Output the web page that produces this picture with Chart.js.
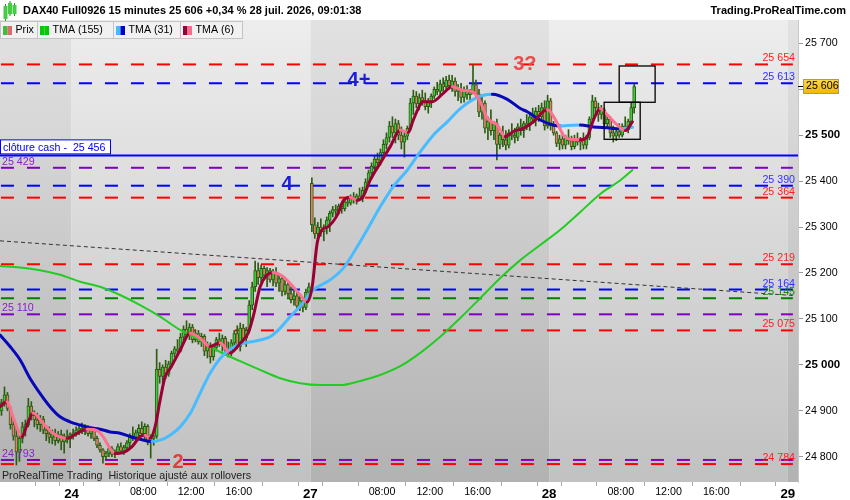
<!DOCTYPE html>
<html>
<head>
<meta charset="utf-8">
<title>DAX40 Full0926 15 minutes</title>
<script src="https://cdn.jsdelivr.net/npm/chart.js@4.4.1/dist/chart.umd.min.js"></script>
<style>
  html, body { margin: 0; padding: 0; background: #fff; overflow: hidden; }
  canvas { display: block; }
</style>
</head>
<body>
<canvas id="chart" width="850" height="500"></canvas>
<script>
// 15 minute bars from 23 juil. 16:00 to 28 juil. 09:00
// x axis = trading hours (02:00-22:00 sessions, weekend removed), 0 = 23 juil. 16:00
const opens = [
  24900,24918,24935,24905,24870,24845,24810,24840,24865,24870,24910,24890,24880,24870,24882,24858,24850,24842,24850,24835,24848,24832,24845,24838,
  24848,24852,24858,24862,24855,24865,24850,24858,24840,24825,24815,24800,24808,24818,24805,24810,24822,24812,24820,24830,24845,24840,24852,24862,24850,24866,24835,24840,24845,
  24990,24975,24995,24980,25002,25025,25035,25030,25060,25078,25065,25082,25055,25068,25050,25062,25030,25042,25018,25038,25055,25045,25058,25032,25025,25048,25068,25040,25080,25058,
  25075,25130,25170,25205,25190,25210,25195,25205,25185,25200,25178,25188,25160,25175,25155,25142,25150,25128,25140,25125,25158,
  25395,25305,25285,25300,25290,25298,25315,25330,25338,25335,25345,25340,25355,25352,25365,25360,25368,25362,25380,25398,25418,25432,25448,25440,25462,25480,25495,25520,25505,25525,
  25500,25485,25498,25515,25570,25585,25568,25582,25575,25562,25572,25585,25600,25595,25612,25605,25620,25608,25618,25595,25600,25582,25598,25588,25595,25610,25590,25550,25570,25515,
  25530,25510,25525,25480,25500,25490,25478,25505,25500,25495,25518,25510,25525,25520,25540,25535,25552,25540,25560,25520,
  25575,25520,25505,25482,25492,25478,25495,25488,25475,25492,25485,25490,25478,25495,25535,25575,25560,25545,25555,25525,25535,25505,25498,25508,25500,25520,25512,25530,25560
];
const highs = [
  24925,24952,24940,24910,24880,24865,24850,24875,24880,24927,24920,24900,24895,24890,24888,24868,24865,24858,24860,24855,24858,24850,24858,24852,
  24860,24865,24868,24873,24870,24868,24865,24860,24845,24830,24818,24812,24825,24822,24815,24828,24830,24825,24835,24850,24865,24858,24870,24876,24872,24870,24848,24850,25034,
  25005,25000,25010,25008,25030,25040,25055,25069,25085,25096,25090,25088,25076,25075,25069,25066,25050,25048,25045,25060,25069,25065,25062,25050,25055,25075,25085,25091,25088,25082,
  25140,25180,25226,25222,25217,25215,25212,25210,25208,25212,25195,25191,25185,25180,25170,25165,25158,25150,25145,25165,25178,
  25407,25320,25310,25318,25305,25322,25335,25345,25348,25350,25352,25360,25365,25370,25375,25372,25385,25387,25405,25424,25440,25455,25461,25470,25490,25505,25530,25540,25535,25532,
  25518,25505,25520,25580,25598,25595,25590,25598,25592,25580,25590,25605,25615,25620,25625,25628,25631,25630,25625,25610,25613,25605,25608,25600,25653,25620,25600,25583,25575,25540,
  25555,25530,25535,25505,25520,25510,25512,25525,25515,25525,25535,25530,25545,25548,25559,25560,25565,25570,25575,25587,
  25580,25530,25508,25500,25505,25500,25512,25498,25500,25505,25495,25505,25500,25540,25587,25582,25570,25565,25559,25545,25540,25520,25512,25525,25525,25540,25535,25570,25612
];
const lows = [
  24890,24910,24900,24860,24836,24782,24790,24830,24845,24865,24880,24865,24860,24855,24850,24835,24830,24828,24825,24830,24815,24808,24830,24820,
  24838,24845,24848,24850,24848,24845,24840,24835,24820,24810,24786,24795,24800,24800,24798,24805,24808,24805,24815,24822,24835,24830,24840,24845,24838,24826,24797,24825,24840,
  24960,24962,24970,24975,24995,25017,25025,25028,25050,25060,25055,25048,25050,25045,25040,25020,25015,25004,25010,25030,25040,25030,25025,25017,25020,25040,25035,25030,25050,25040,
  25070,25120,25160,25175,25180,25185,25170,25180,25172,25170,25160,25150,25152,25148,25135,25130,25120,25118,25115,25120,25141,
  25290,25275,25267,25280,25270,25285,25290,25322,25325,25328,25330,25335,25345,25348,25352,25350,25360,25355,25375,25390,25405,25424,25430,25435,25453,25470,25485,25495,25483,25490,
  25470,25452,25490,25510,25545,25560,25555,25565,25555,25548,25560,25580,25588,25585,25595,25598,25600,25595,25585,25575,25570,25572,25578,25575,25590,25580,25540,25535,25505,25490,
  25500,25490,25446,25470,25475,25468,25472,25490,25483,25488,25500,25495,25512,25510,25525,25520,25530,25535,25511,25515,
  25511,25500,25475,25468,25470,25470,25480,25468,25470,25478,25468,25470,25470,25490,25530,25545,25530,25535,25518,25515,25495,25485,25488,25495,25496,25508,25505,25525,25548
];
const closes = [
  24918,24935,24905,24870,24845,24810,24840,24865,24870,24910,24890,24880,24870,24882,24858,24850,24842,24850,24835,24848,24832,24845,24838,24848,
  24852,24858,24862,24855,24865,24850,24858,24840,24825,24815,24800,24808,24818,24805,24810,24822,24812,24820,24830,24845,24840,24852,24862,24850,24866,24835,24840,24845,24990,
  24975,24995,24980,25002,25025,25035,25030,25060,25078,25065,25082,25055,25068,25050,25062,25030,25042,25018,25038,25055,25045,25058,25032,25025,25048,25068,25040,25080,25058,25075,
  25130,25170,25205,25190,25210,25195,25205,25185,25200,25178,25188,25160,25175,25155,25142,25150,25128,25140,25125,25158,25170,
  25305,25285,25300,25290,25298,25315,25330,25338,25335,25345,25340,25355,25352,25365,25360,25368,25362,25380,25398,25418,25432,25448,25440,25462,25480,25495,25520,25505,25525,25500,
  25485,25498,25515,25570,25585,25568,25582,25575,25562,25572,25585,25600,25595,25612,25605,25620,25608,25618,25595,25600,25582,25598,25588,25595,25610,25590,25550,25570,25515,25530,
  25510,25525,25480,25500,25490,25478,25505,25500,25495,25518,25510,25525,25520,25540,25535,25552,25540,25560,25520,25575,
  25520,25505,25482,25492,25478,25495,25488,25475,25492,25485,25490,25478,25495,25535,25575,25560,25545,25555,25525,25535,25505,25498,25508,25500,25520,25512,25530,25560,25606
];

// moving averages (x in trading hours)
const tma6X = [0,0.59,1.09,1.84,2.26,2.77,3.60,4.44,5.62,6.45,7.29,8.13,8.63,9.22,9.64,10.31,11.06,11.74,12.15,12.57,
  12.99,13.41,13.83,14.25,15.09,15.93,16.76,17.60,18.44,19.28,20.12,20.79,21.21,21.79,22.38,22.88,23.72,24.56,25.15,25.73,
  26.15,26.57,26.99,27.49,28.25,28.75,29.34,29.92,30.43,31.01,31.85,32.69,33.53,34.20,34.62,35.46,36.21,37.13,37.89,38.73,
  39.56,40.23,40.82,41.66,42.33,43.00,43.84,44.68,45.85,46.69,47.19,47.78,48.62,49.20,49.71,50.29,50.88,51.72,52.39,52.98];
const tma6Y = [24909,24920,24887,24844,24869,24895,24873,24851,24840,24851,24860,24857,24844,24818,24807,24809,24822,24844,24847,24840,
  24865,24923,24974,24992,25032,25069,25058,25040,25048,25026,25047,25069,25105,25170,25196,25201,25192,25170,25152,25137,
  25170,25265,25294,25301,25326,25357,25365,25358,25367,25402,25439,25475,25511,25506,25533,25573,25573,25591,25606,25598,
  25595,25573,25537,25522,25497,25508,25515,25529,25556,25526,25500,25491,25490,25497,25533,25558,25544,25522,25510,25529];
const tma31X = [0,0.84,1.68,2.51,3.35,4.19,5.03,5.87,6.71,7.54,8.38,9.22,10.06,10.90,11.74,12.74,13.41,14.25,15.09,15.93,
  16.76,17.60,18.44,19.28,20.12,20.96,21.79,22.63,23.47,24.31,25.15,26.24,27.66,28.75,29.59,30.76,31.85,32.94,34.12,35.21,
  36.30,37.47,38.56,39.65,40.49,41.24,42.50,43.59,44.17,45.26,46.35,46.94,47.53,48.62,49.71,50.88,51.97,52.98];
const tma31Y = [25065,25040,25011,24971,24938,24909,24887,24876,24869,24863,24860,24854,24851,24844,24838,24833,24836,24847,24865,24894,
  24938,24982,25014,25034,25045,25050,25054,25061,25080,25105,25128,25163,25185,25210,25243,25294,25344,25388,25424,25464,
  25500,25529,25558,25578,25587,25589,25578,25558,25551,25533,25522,25520,25521,25522,25518,25516,25514,25517];
const tma155X = [0,1.68,3.35,5.03,6.71,8.38,10.06,11.74,13.41,15.09,16.76,18.44,20.12,21.79,23.47,25.15,26.82,
  28.50,30.18,31.85,33.53,35.21,36.88,38.56,40.23,41.91,43.59,45.26,46.94,48.62,50.29,51.97,52.98];
const tma155Y = [25215,25212,25206,25196,25181,25170,25152,25130,25105,25076,25054,25028,25008,24989,24971,24960,24956,
  24956,24965,24978,24997,25026,25061,25102,25145,25189,25228,25261,25294,25333,25372,25402,25424];

// horizontal levels
const levelValues = [25654, 25613, 25429, 25390, 25364, 25219, 25164, 25145, 25110, 25075, 24793, 24784];
const levelKinds  = ['red','blue','purple','blue','red','red','blue','green','purple','red','purple','red'];
const clotureValue = 25456;
const trendX = [0, 66.4];
const trendY = [25270, 25151];

// axis ticks
const dayStarts = [6, 26, 46, 66];
const xTickVals   = [4, 6, 8, 12, 16, 20, 24, 26, 28, 32, 36, 40, 44, 46, 48, 52, 56, 60, 64, 66];
const xTickLabels = ['', '24', '', '08:00', '12:00', '16:00', '', '27', '', '08:00', '12:00', '16:00', '', '28', '', '08:00', '12:00', '16:00', '', '29'];
const yTickVals = [24800, 24900, 25000, 25100, 25200, 25300, 25400, 25500, 25600, 25700];

// annotations
const noteTexts = ['4+', '4', '3?', '2'];
const noteX = [30.07, 24.04, 43.97, 14.91];
const noteY = [25619, 25393, 25653, 24788];
const boxX0 = [51.87, 50.61], boxX1 = [54.88, 53.63];
const boxY0 = [25571.6, 25491], boxY1 = [25650.6, 25571.6];

const FONT = "'Liberation Sans', Arial, sans-serif";
const LEVEL_COLORS = { red: '#ff0000', blue: '#0000ff', green: '#008000', purple: '#7f00c0' };
const LABEL_COLORS = { red: '#ff1e1e', blue: '#3030ff', green: '#108a10', purple: '#8a20c8' };
const UP = '#3ccc3c', DOWN = '#e8806c', EDGE = '#2c5c12';
const NOTE_COLORS = ['#1c1cdc', '#1c1cdc', '#ea4c4c', '#e23c3c'];

const fmt = v => { const s = String(Math.round(v)); return s.slice(0, -3) + ' ' + s.slice(-3); };
const barX = i => 0.125 + i * 0.25;

const n = Math.min(opens.length, highs.length, lows.length, closes.length);
const wickData = [], bodyData = [], bodyColors = [];
for (let i = 0; i < n; i++) {
  wickData.push({ x: barX(i), y: [lows[i], highs[i]] });
  bodyData.push({ x: barX(i), y: [opens[i], closes[i]] });
  bodyColors.push(closes[i] >= opens[i] ? UP : DOWN);
}

const levelSets = levelValues.map((v, i) => ({
  type: 'line',
  data: [{ x: 0.08, y: v }, { x: 66.42, y: v }],
  borderColor: LEVEL_COLORS[levelKinds[i]],
  borderWidth: 2,
  borderDash: [13, 13],
  borderCapStyle: 'butt',
  pointRadius: 0,
  order: 10
}));

function maSet(xs, ys, up, down, width, order) {
  return {
    type: 'line',
    data: xs.map((x, i) => ({ x, y: ys[i] })),
    borderColor: up,
    borderWidth: width,
    borderCapStyle: 'round',
    borderJoinStyle: 'round',
    cubicInterpolationMode: 'monotone',
    pointRadius: 0,
    segment: { borderColor: c => (c.p1.parsed.y >= c.p0.parsed.y ? up : down) },
    order
  };
}

const datasets = [
  ...levelSets,
  { type: 'line', data: trendX.map((x, i) => ({ x, y: trendY[i] })), borderColor: '#333', borderWidth: 1,
    borderDash: [4, 3], pointRadius: 0, order: 9 },
  { type: 'bar', data: wickData, backgroundColor: EDGE, barThickness: 1, grouped: false, order: 8 },
  { type: 'bar', data: bodyData, backgroundColor: bodyColors, borderColor: EDGE, borderWidth: 1,
    borderSkipped: false, barThickness: 3, minBarLength: 1, grouped: false, order: 7 },
  { type: 'line', data: [{ x: 0, y: clotureValue }, { x: 66.85, y: clotureValue }], borderColor: '#0000ff',
    borderWidth: 2, pointRadius: 0, order: 6 },
  maSet(tma155X, tma155Y, '#22cc22', '#22cc22', 2, 3),
  maSet(tma31X, tma31Y, '#48bcff', '#0808b8', 3, 2),
  maSet(tma6X, tma6Y, '#9a0036', '#ff7090', 3, 1)
];

const bgPlugin = {
  id: 'bg',
  beforeDraw(chart) {
    const { ctx, chartArea: a, scales: { x } } = chart;
    ctx.save();
    ctx.fillStyle = '#fff';
    ctx.fillRect(0, 0, chart.width, chart.height);
    const edges = [x.min, ...dayStarts, x.max];
    for (let i = 0; i < edges.length - 1; i++) {
      const x0 = x.getPixelForValue(edges[i]), x1 = x.getPixelForValue(edges[i + 1]);
      const g = ctx.createLinearGradient(0, a.top, 0, a.bottom);
      const dark = i % 2 === 0;
      g.addColorStop(0, dark ? '#e2e2e2' : '#ededed');
      g.addColorStop(1, dark ? '#b2b2b2' : '#c1c1c1');
      ctx.fillStyle = g;
      ctx.fillRect(x0, a.top, x1 - x0, a.bottom - a.top);
    }
    ctx.restore();
  }
};

const overlayPlugin = {
  id: 'overlay',
  afterDatasetsDraw(chart) {
    const { ctx, chartArea: a, scales: { x, y } } = chart;
    ctx.save();
    ctx.font = '10.67px ' + FONT;
    ctx.textBaseline = 'alphabetic';
    // level labels
    levelValues.forEach((v, i) => {
      const py = y.getPixelForValue(v);
      ctx.fillStyle = LABEL_COLORS[levelKinds[i]];
      if (levelKinds[i] === 'purple') {
        ctx.textAlign = 'left';
        ctx.fillText(fmt(v), 2, py - 3);
      } else {
        ctx.textAlign = 'right';
        ctx.fillText(fmt(v), 795, py - 3);
      }
    });
    // cloture cash box
    const cy = y.getPixelForValue(clotureValue);
    ctx.fillStyle = '#fff';
    ctx.fillRect(0.5, cy - 15.5, 110, 14);
    ctx.strokeStyle = '#0000ff';
    ctx.lineWidth = 1;
    ctx.strokeRect(0.5, cy - 15.5, 110, 14);
    ctx.fillStyle = '#0000ff';
    ctx.textAlign = 'left';
    ctx.fillText('clôture cash -  ' + fmt(clotureValue), 3, cy - 4.5);
    // boxes
    ctx.strokeStyle = '#000';
    ctx.lineWidth = 1.3;
    boxX0.forEach((bx, i) => {
      const l = x.getPixelForValue(bx), r = x.getPixelForValue(boxX1[i]);
      const t = y.getPixelForValue(boxY1[i]), b = y.getPixelForValue(boxY0[i]);
      ctx.strokeRect(l, t, r - l, b - t);
    });
    // notes
    ctx.font = 'bold 20px ' + FONT;
    ctx.textAlign = 'center';
    ctx.textBaseline = 'middle';
    noteTexts.forEach((t, i) => {
      ctx.fillStyle = NOTE_COLORS[i];
      ctx.fillText(t, x.getPixelForValue(noteX[i]), y.getPixelForValue(noteY[i]));
    });
    // footer text
    ctx.font = '10.67px ' + FONT;
    ctx.textAlign = 'left';
    ctx.textBaseline = 'alphabetic';
    ctx.fillStyle = '#222';
    ctx.fillText('ProRealTime Trading  Historique ajusté aux rollovers', 2, a.bottom - 3);
    ctx.restore();
  },
  afterDraw(chart) {
    const { ctx, chartArea: a, scales: { y } } = chart;
    ctx.save();
    // header
    ctx.fillStyle = '#fff';
    ctx.fillRect(0, 0, chart.width, a.top);
    [[5, 6, 13], [9.5, 3, 11], [14, 5, 9]].forEach(([cx, top, h]) => {
      ctx.fillStyle = '#2c8c2c';
      ctx.fillRect(cx, top - 2, 1, h + 4);
      ctx.fillStyle = '#44cc44';
      ctx.fillRect(cx - 1.5, top, 4, h);
    });
    ctx.fillStyle = '#000';
    ctx.font = 'bold 11px ' + FONT;
    ctx.textBaseline = 'middle';
    ctx.textAlign = 'left';
    ctx.fillText('DAX40 Full0926 15 minutes 25 606 +0,34 % 28 juil. 2026, 09:01:38', 23, 11);
    ctx.textAlign = 'right';
    ctx.fillText('Trading.ProRealTime.com', 846, 11);
    // legend row
    const items = [
      ['Prix', 37, '#3cbf3c', '#e06a6a'],
      ['TMA (155)', 76, '#00cc00', '#00cc00'],
      ['TMA (31)', 67, '#44bbff', '#0000cc'],
      ['TMA (6)', 62, '#990035', '#ff6a8e']
    ];
    let lx = 0.5;
    ctx.font = '10.67px ' + FONT;
    ctx.textAlign = 'left';
    items.forEach(([label, w, c1, c2]) => {
      ctx.fillStyle = '#f1f1f1';
      ctx.fillRect(lx, 21.5, w, 17);
      ctx.strokeStyle = '#c4c4c4';
      ctx.lineWidth = 1;
      ctx.strokeRect(lx, 21.5, w, 17);
      ctx.fillStyle = c1;
      ctx.fillRect(lx + 2.5, 26, 4.5, 9);
      ctx.fillStyle = c2;
      ctx.fillRect(lx + 7, 26, 4.5, 9);
      ctx.fillStyle = '#000';
      ctx.fillText(label, lx + 15, 30.5);
      lx += w;
    });
    // last price tag
    const py = y.getPixelForValue(closes[n - 1]);
    ctx.strokeStyle = '#000';
    ctx.lineWidth = 1;
    ctx.beginPath();
    ctx.moveTo(a.right, Math.round(py) + 0.5);
    ctx.lineTo(a.right + 5, Math.round(py) + 0.5);
    ctx.stroke();
    const g = ctx.createLinearGradient(0, py - 7, 0, py + 7);
    g.addColorStop(0, '#ffd84a');
    g.addColorStop(1, '#f2b800');
    ctx.fillStyle = g;
    ctx.fillRect(803.5, Math.round(py) - 6.5, 35, 14);
    ctx.strokeStyle = '#a89a6a';
    ctx.strokeRect(803.5, Math.round(py) - 6.5, 35, 14);
    ctx.fillStyle = '#000';
    ctx.textBaseline = 'middle';
    ctx.fillText(fmt(closes[n - 1]), 806, Math.round(py) + 0.5);
    ctx.restore();
  }
};

new Chart(document.getElementById('chart'), {
  type: 'bar',
  data: { datasets },
  options: {
    responsive: false,
    animation: false,
    events: [],
    layout: { padding: { top: 20, left: 0, right: 0, bottom: 0 } },
    plugins: { legend: { display: false }, tooltip: { enabled: false } },
    scales: {
      x: {
        type: 'linear',
        min: 0,
        max: 66.85,
        offset: false,
        border: { display: false },
        grid: { drawOnChartArea: false, drawTicks: true, tickLength: 4, tickColor: '#a8a8a8' },
        afterBuildTicks: s => { s.ticks = xTickVals.map(v => ({ value: v })); },
        afterFit: s => { s.height = 18; },
        ticks: {
          autoSkip: false,
          maxRotation: 0,
          padding: 0,
          color: '#000',
          callback: v => xTickLabels[xTickVals.indexOf(v)],
          font: c => (c.tick && dayStarts.includes(c.tick.value)
            ? { family: FONT, size: 13.3, weight: 'bold' }
            : { family: FONT, size: 10.67 })
        }
      },
      y: {
        position: 'right',
        min: 24745,
        max: 25750.7,
        border: { display: true, color: '#c8c8c8' },
        grid: { drawOnChartArea: false, drawTicks: true, tickLength: 5, tickColor: '#999' },
        afterBuildTicks: s => { s.ticks = yTickVals.map(v => ({ value: v })); },
        afterFit: s => { s.width = 52; },
        ticks: {
          autoSkip: false,
          padding: 2,
          color: '#000',
          callback: v => fmt(v),
          font: c => (c.tick && c.tick.value % 500 === 0
            ? { family: FONT, size: 11.5, weight: 'bold' }
            : { family: FONT, size: 10.67 })
        }
      }
    }
  },
  plugins: [bgPlugin, overlayPlugin]
});
</script>
</body>
</html>
